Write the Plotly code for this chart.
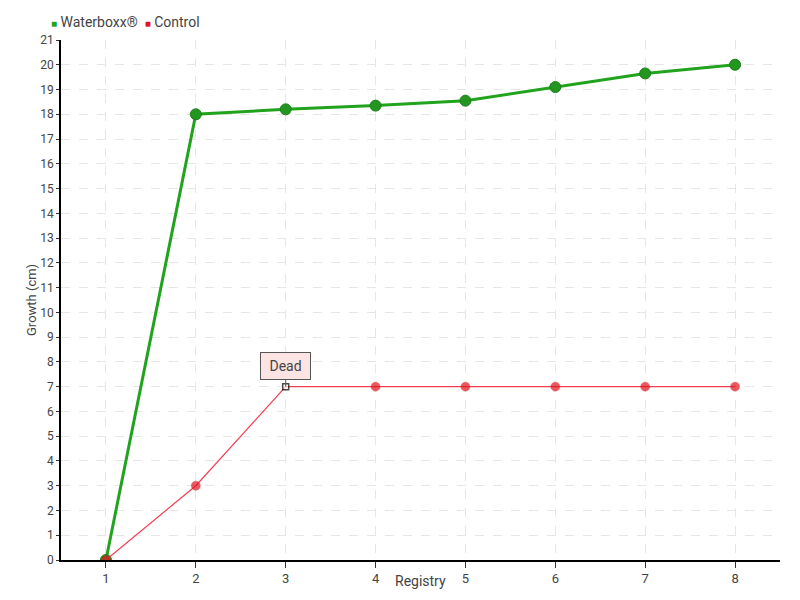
import plotly.graph_objects as go

registry = [1, 2, 3, 4, 5, 6, 7, 8]
waterboxx = [0, 18, 18.2, 18.35, 18.55, 19.1, 19.65, 20]
control = [0, 3, 7, 7, 7, 7, 7, 7]
y_ticks = list(range(0, 22))
series_names = ["Waterboxx®", "Control"]

font_family = "Roboto, sans-serif"
green = "#22a31e"
red = "#e3141e"

fig = go.Figure()
fig.add_trace(go.Scatter(
    x=registry, y=waterboxx, name=series_names[0], mode="lines+markers",
    line=dict(color=green, width=3), showlegend=False,
    marker=dict(color="#23961f", size=11, line=dict(color="#1c7f19", width=1)),
))
ctrl_symbols = ["circle"] * len(registry)
ctrl_symbols[2] = "square"
ctrl_colors = [red] * len(registry)
ctrl_colors[2] = "white"
ctrl_sizes = [9] * len(registry)
ctrl_sizes[2] = 6
ctrl_line_colors = ["#d01018"] * len(registry)
ctrl_line_colors[2] = "black"
ctrl_line_widths = [0.5] * len(registry)
ctrl_line_widths[2] = 1.5
fig.add_trace(go.Scatter(
    x=registry, y=control, name=series_names[1], mode="lines+markers",
    line=dict(color="#f04050", width=1.2), showlegend=False,
    marker=dict(color=ctrl_colors, size=ctrl_sizes, symbol=ctrl_symbols,
                line=dict(color=ctrl_line_colors, width=ctrl_line_widths)),
))

# legend drawn as text with coloured squares
legend_text = (f"<span style='color:{green};font-size:10px'>■</span> {series_names[0]}  "
               f"<span style='color:{red};font-size:10px'>■</span> {series_names[1]}")
fig.add_annotation(
    xref="paper", yref="paper", x=-0.016, y=1 + 18 / 520,
    xanchor="left", yanchor="middle", showarrow=False,
    text=legend_text, font=dict(family=font_family, size=14, color="#444"),
)

fig.add_annotation(
    x=registry[2], y=control[2], text="Dead", showarrow=True,
    arrowhead=0, arrowwidth=1, arrowcolor="#555", ax=0, ay=-21,
    bgcolor="#fde4e4", bordercolor="#555", borderwidth=1, borderpad=5,
    width=39,
    font=dict(family=font_family, size=14, color="#444"),
)

# axis titles
fig.add_annotation(xref="paper", yref="paper", x=0.5, y=-21 / 520,
                   xanchor="center", yanchor="middle", showarrow=False,
                   text="Registry", font=dict(family=font_family, size=14, color="#444"))
fig.add_annotation(xref="paper", yref="paper", x=-30 / 719, y=0.5,
                   xanchor="center", yanchor="middle", showarrow=False, textangle=-90,
                   text="Growth (cm)", font=dict(family=font_family, size=13, color="#444"))

fig.update_layout(
    width=800, height=600,
    margin=dict(l=61, r=20, t=40, b=40, autoexpand=False),
    paper_bgcolor="white", plot_bgcolor="white",
    font=dict(family=font_family, size=12, color="#444"),
    showlegend=False,
    xaxis=dict(range=[0.5, 8.5], tickmode="array", tickvals=registry,
               showgrid=True, gridcolor="#e6e6e6", griddash="dash",
               showline=True, linecolor="black", linewidth=1.5,
               ticks="outside", ticklen=6, tickcolor="#333",
               tickfont=dict(size=13),
               zeroline=False, automargin=False),
    yaxis=dict(range=[0, 21], tickmode="array", tickvals=y_ticks,
               showgrid=True, gridcolor="#e6e6e6", griddash="dash",
               showline=True, linecolor="black", linewidth=1.5,
               ticks="outside", ticklen=3, tickcolor="#333",
               zeroline=False, automargin=False),
)

fig.write_html("out.html", config={"displayModeBar": False},
               post_script="document.body.style.margin='0px';")
